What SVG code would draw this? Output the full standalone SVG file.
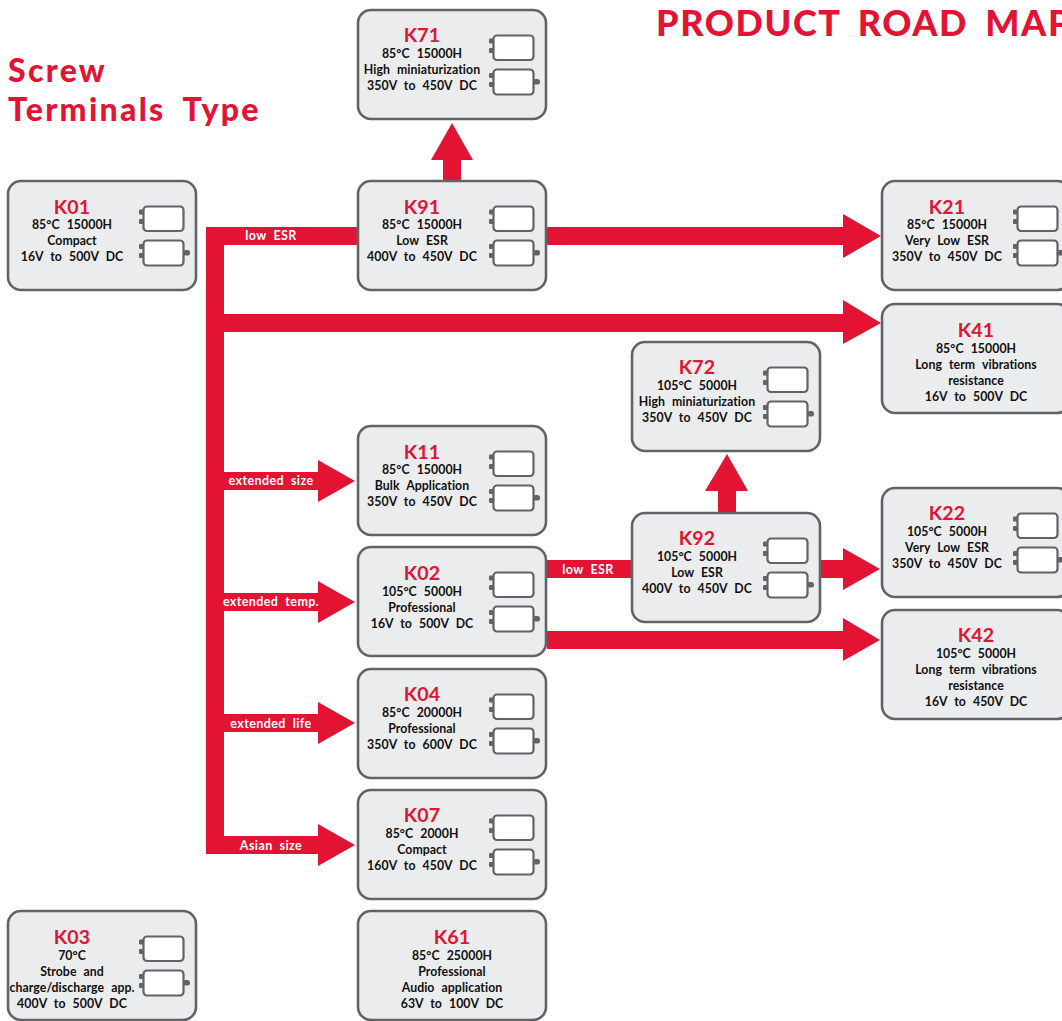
<svg xmlns="http://www.w3.org/2000/svg" width="1062" height="1021" viewBox="0 0 1062 1021">
<style>
text{font-family:"Lato","Noto Sans","Liberation Sans",sans-serif;text-anchor:middle}
.box{fill:#ebeced;stroke:#626366;stroke-width:2.6}
.t{fill:#e31333;font-size:19.500px;font-weight:700;letter-spacing:.2px}
.l{fill:#111;font-size:12.300px;font-weight:700;word-spacing:4px;letter-spacing:.05px}
.w{fill:#fff;font-size:12.500px;font-weight:700;word-spacing:3.500px;letter-spacing:.4px}
.h{fill:#e31333;font-weight:900;text-anchor:start;word-spacing:7px;letter-spacing:1.600px}
.h2{letter-spacing:2.300px;word-spacing:8px}
.red{fill:#e31333}
.ic{fill:#fff;stroke:#626366;stroke-width:2.200}
.tm{fill:#626366}
</style>
<defs>
<g id="cap">
<rect class="tm" x="131" y="28.500" width="5" height="5" rx="1"/><rect class="tm" x="131" y="38" width="5" height="5" rx="1"/>
<rect class="ic" x="135.500" y="25.500" width="40" height="24.500" rx="3.500"/>
<rect class="tm" x="131" y="63" width="5" height="5" rx="1"/><rect class="tm" x="131" y="72" width="5" height="5" rx="1"/>
<rect class="tm" x="175" y="69" width="7" height="5.500" rx="2.500"/>
<rect class="ic" x="135.500" y="59.500" width="40" height="25" rx="3.500"/>
</g>
</defs>
<g id="connectors">
<path class="red" d="M206 227H358V245H224V314H843V300L881 323L843 344V332H224V472H318V460L355 481L318 502V490H224V593H318V581L355 602L318 623V611H224V714H318V702L355 723L318 744V732H224V836H318V824L355 845L318 866V854H206Z"/>
<path class="red" d="M547 227H843V214L881 236L843 258V245H547Z"/>
<path class="red" d="M443 181V160H431L452 123L473 160H461V181Z"/>
<path class="red" d="M718 513V491H705L727 454L748 491H736V513Z"/>
<rect class="red" x="547" y="560" width="85" height="18"/>
<path class="red" d="M821 560H843V548L880 569L843 590V578H821Z"/>
<path class="red" d="M547 631H843V618L880 640L843 661V649H547Z"/>
<text class="w" x="271" y="240">low ESR</text>
<text class="w" x="271" y="485">extended size</text>
<text class="w" x="271" y="606">extended temp.</text>
<text class="w" x="271" y="728">extended life</text>
<text class="w" x="271" y="850">Asian size</text>
<text class="w" x="588" y="574">low ESR</text>
</g>
<g id="titles">
<text class="h" x="656" y="36" font-size="36">PRODUCT ROAD MAP</text>
<text class="h h2" x="8" y="82" font-size="32">Screw</text>
<text class="h h2" x="8" y="121" font-size="32">Terminals Type</text>
</g>
<g id="K01" transform="translate(8,181)"><rect class="box" width="188" height="109" rx="13"/><use href="#cap"/><text class="t" x="64" y="33">K01</text><text class="l" x="64" y="48">85°C 15000H</text><text class="l" x="64" y="64">Compact</text><text class="l" x="64" y="80">16V to 500V DC</text></g>
<g id="K03" transform="translate(8,911)"><rect class="box" width="188" height="109" rx="13"/><use href="#cap"/><text class="t" x="64" y="33">K03</text><text class="l" x="64" y="49">70°C</text><text class="l" x="64" y="65">Strobe and</text><text class="l" x="64" y="81">charge/discharge app.</text><text class="l" x="64" y="97">400V to 500V DC</text></g>
<g id="K71" transform="translate(358,10)"><rect class="box" width="188" height="109" rx="13"/><use href="#cap"/><text class="t" x="64" y="32">K71</text><text class="l" x="64" y="48">85°C 15000H</text><text class="l" x="64" y="64">High miniaturization</text><text class="l" x="64" y="80">350V to 450V DC</text></g>
<g id="K91" transform="translate(358,181)"><rect class="box" width="188" height="109" rx="13"/><use href="#cap"/><text class="t" x="64" y="33">K91</text><text class="l" x="64" y="48">85°C 15000H</text><text class="l" x="64" y="64">Low ESR</text><text class="l" x="64" y="80">400V to 450V DC</text></g>
<g id="K11" transform="translate(358,426)"><rect class="box" width="188" height="109" rx="13"/><use href="#cap"/><text class="t" x="64" y="33">K11</text><text class="l" x="64" y="48">85°C 15000H</text><text class="l" x="64" y="64">Bulk Application</text><text class="l" x="64" y="80">350V to 450V DC</text></g>
<g id="K02" transform="translate(358,547)"><rect class="box" width="188" height="109" rx="13"/><use href="#cap"/><text class="t" x="64" y="33">K02</text><text class="l" x="64" y="49">105°C 5000H</text><text class="l" x="64" y="65">Professional</text><text class="l" x="64" y="81">16V to 500V DC</text></g>
<g id="K04" transform="translate(358,669)"><rect class="box" width="188" height="109" rx="13"/><use href="#cap"/><text class="t" x="64" y="32">K04</text><text class="l" x="64" y="48">85°C 20000H</text><text class="l" x="64" y="64">Professional</text><text class="l" x="64" y="80">350V to 600V DC</text></g>
<g id="K07" transform="translate(358,790)"><rect class="box" width="188" height="109" rx="13"/><use href="#cap"/><text class="t" x="64" y="32">K07</text><text class="l" x="64" y="48">85°C 2000H</text><text class="l" x="64" y="64">Compact</text><text class="l" x="64" y="80">160V to 450V DC</text></g>
<g id="K61" transform="translate(358,911)"><rect class="box" width="188" height="109" rx="13"/><text class="t" x="94" y="33">K61</text><text class="l" x="94" y="49">85°C 25000H</text><text class="l" x="94" y="65">Professional</text><text class="l" x="94" y="81">Audio application</text><text class="l" x="94" y="97">63V to 100V DC</text></g>
<g id="K72" transform="translate(632,342)"><rect class="box" width="188" height="109" rx="13"/><use href="#cap"/><text class="t" x="65" y="32">K72</text><text class="l" x="65" y="48">105°C 5000H</text><text class="l" x="65" y="64">High miniaturization</text><text class="l" x="65" y="80">350V to 450V DC</text></g>
<g id="K92" transform="translate(632,513)"><rect class="box" width="188" height="109" rx="13"/><use href="#cap"/><text class="t" x="65" y="32">K92</text><text class="l" x="65" y="48">105°C 5000H</text><text class="l" x="65" y="64">Low ESR</text><text class="l" x="65" y="80">400V to 450V DC</text></g>
<g id="K21" transform="translate(882,181)"><rect class="box" width="188" height="109" rx="13"/><use href="#cap"/><text class="t" x="65" y="33">K21</text><text class="l" x="65" y="48">85°C 15000H</text><text class="l" x="65" y="64">Very Low ESR</text><text class="l" x="65" y="80">350V to 450V DC</text></g>
<g id="K41" transform="translate(882,304)"><rect class="box" width="188" height="109" rx="13"/><text class="t" x="94" y="33">K41</text><text class="l" x="94" y="49">85°C 15000H</text><text class="l" x="94" y="65">Long term vibrations</text><text class="l" x="94" y="81">resistance</text><text class="l" x="94" y="97">16V to 500V DC</text></g>
<g id="K22" transform="translate(882,488)"><rect class="box" width="188" height="109" rx="13"/><use href="#cap"/><text class="t" x="65" y="32">K22</text><text class="l" x="65" y="48">105°C 5000H</text><text class="l" x="65" y="64">Very Low ESR</text><text class="l" x="65" y="80">350V to 450V DC</text></g>
<g id="K42" transform="translate(882,610)"><rect class="box" width="188" height="109" rx="13"/><text class="t" x="94" y="32">K42</text><text class="l" x="94" y="48">105°C 5000H</text><text class="l" x="94" y="64">Long term vibrations</text><text class="l" x="94" y="80">resistance</text><text class="l" x="94" y="96">16V to 450V DC</text></g>
</svg>
